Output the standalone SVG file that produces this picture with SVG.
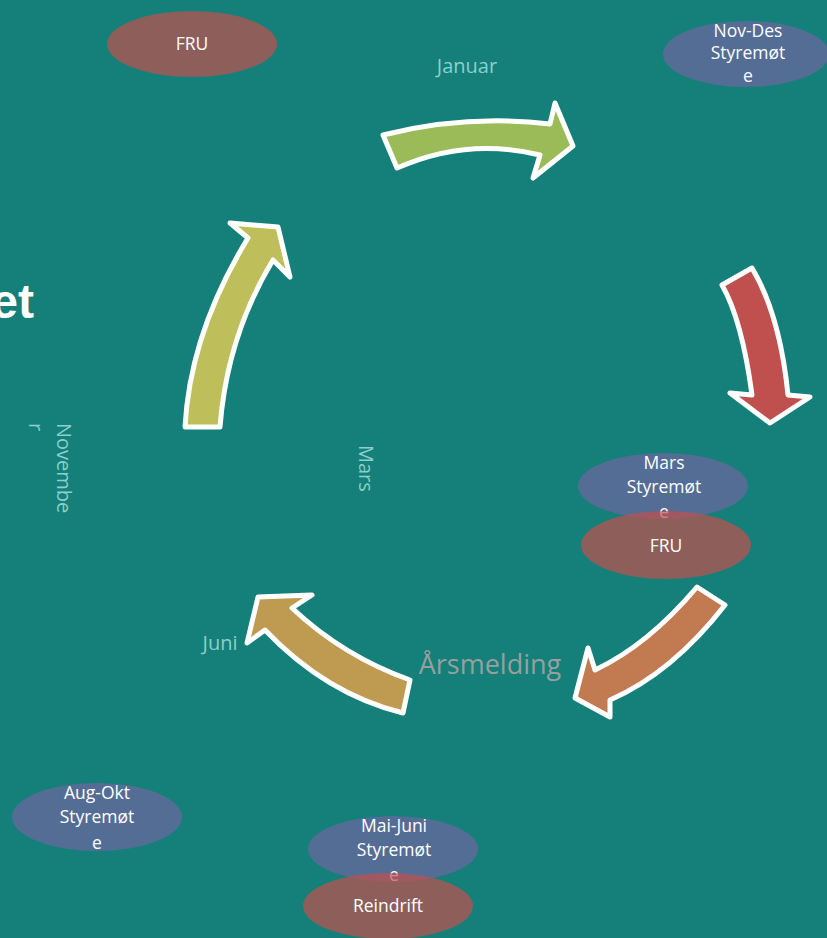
<svg xmlns="http://www.w3.org/2000/svg" width="827" height="938" viewBox="0 0 827 938">
<style>
.arrow{stroke:#FFFFFF;stroke-width:5;stroke-linejoin:round}
.blue{fill:#546D95}
.red{fill:#C0504D;fill-opacity:0.7}
.lbl{font-family:"Open Sans","Liberation Sans",sans-serif;font-size:17.5px;fill:#FFFFFF;text-anchor:middle}
.month{font-family:"Open Sans","Liberation Sans",sans-serif;font-size:20px;fill:#8CCFCB}
</style>
<rect x="0" y="0" width="827" height="938" fill="#148079"/>
<text x="34" y="318" font-family="'Liberation Sans', Arial, sans-serif" font-size="48" font-weight="bold" fill="#FFFFFF" text-anchor="end">et</text>
<g id="connectors">
<path class="arrow" fill="#9BBB59" d="M383,135 Q466,114 550,124 L555,103 L573,146 L533,178 L540,155 Q467,137 397,168 Z"/>
<path class="arrow" fill="#C0504D" d="M722,285 L752,268 Q780,315 788,395 L810,397 L770,423 L730,393 L752,395 Q742,320 722,285 Z"/>
<path class="arrow" fill="#C27A51" d="M697,587 L725,605 Q672,673 610,700 L610,717 L575,698 L588,648 L595,670 Q648,645 697,587 Z"/>
<path class="arrow" fill="#BF9B52" d="M403,713 L410,680 Q343,656 292,608 L312,595 L258,597 L247,643 L265,630 Q326,694 403,713 Z"/>
<path class="arrow" fill="#BEBE5A" d="M185,427 L220,427 Q227,336 273,260 L290,277 L278,227 L230,223 L248,238 Q190,333 185,427 Z"/>
</g>
<g id="januar"><text class="month" x="467" y="73" text-anchor="middle" font-size="21">Januar</text></g>
<g id="juni"><text class="month" x="220" y="650" text-anchor="middle">Juni</text></g>
<g id="mars-label"><text class="month" transform="translate(359,445) rotate(90)">Mars</text></g>
<g id="november-label"><text class="month" transform="translate(57,423) rotate(90)"><tspan x="0" y="0">Novembe</tspan><tspan x="0" y="28">r</tspan></text></g>
<g id="arsmelding"><text x="490" y="674" font-family="'Open Sans', 'Liberation Sans', sans-serif" font-size="27" fill="#979F9F" text-anchor="middle">Årsmelding</text></g>
<g id="fru-top">
<ellipse class="red" cx="192" cy="44" rx="85" ry="33"/>
<text class="lbl" x="192" y="50">FRU</text>
</g>
<g id="novdes">
<ellipse class="blue" cx="746" cy="54" rx="83" ry="33"/>
<text class="lbl" x="748" y="37">Nov-Des</text>
<text class="lbl" x="748" y="59">Styremøt</text>
<text class="lbl" x="748" y="82">e</text>
</g>
<g id="mars">
<ellipse class="blue" cx="663" cy="486" rx="85" ry="33"/>
<text class="lbl" x="664" y="469">Mars</text>
<text class="lbl" x="664" y="493">Styremøt</text>
<text class="lbl" x="664" y="518">e</text>
</g>
<g id="fru-mars">
<ellipse class="red" cx="666" cy="545" rx="85" ry="34"/>
<text class="lbl" x="666" y="552">FRU</text>
</g>
<g id="augokt">
<ellipse class="blue" cx="97" cy="817" rx="85" ry="34"/>
<text class="lbl" x="97" y="799">Aug-Okt</text>
<text class="lbl" x="97" y="823">Styremøt</text>
<text class="lbl" x="97" y="849">e</text>
</g>
<g id="maijuni">
<ellipse class="blue" cx="393" cy="849" rx="85" ry="33"/>
<text class="lbl" x="394" y="832">Mai-Juni</text>
<text class="lbl" x="394" y="856">Styremøt</text>
<text class="lbl" x="394" y="881">e</text>
</g>
<g id="reindrift">
<ellipse class="red" cx="388" cy="906" rx="85" ry="33"/>
<text class="lbl" x="388" y="912">Reindrift</text>
</g>
</svg>
